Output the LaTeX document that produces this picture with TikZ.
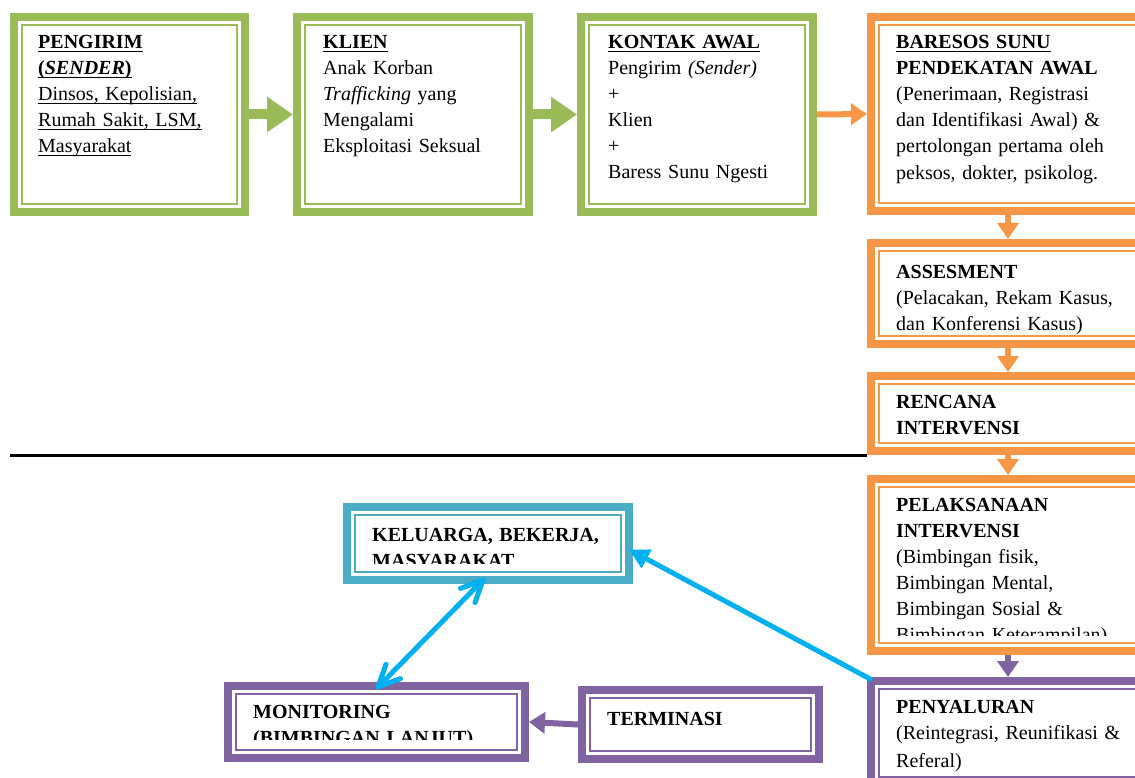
\documentclass[tikz,border=0pt]{standalone}
\usepackage{fontspec}
\setmainfont{Liberation Serif}
\usetikzlibrary{arrows.meta,calc}

\newsavebox{\garisbox}
\newcommand{\garis}[1]{\leavevmode\sbox{\garisbox}{#1}\rlap{\rule[-3.5pt]{\wd\garisbox}{1.2pt}}\usebox{\garisbox}}

\definecolor{hijau}{HTML}{9BBB59}
\definecolor{oranye}{HTML}{F79646}
\definecolor{ungu}{HTML}{8064A2}
\definecolor{tosca}{HTML}{4BACC6}
\definecolor{biru}{HTML}{00B0F0}

\tikzset{
	kotak/.style={draw=#1, line width=8pt, rectangle, inner sep=0pt,
		path picture={\draw[#1, line width=1.5pt] ([shift={(8pt,-8pt)}]path picture bounding box.north west) rectangle ([shift={(-8pt,8pt)}]path picture bounding box.south east);}},
	isi/.style={anchor=base west, inner sep=0pt, align=left, text width=#1},
	panahhijau/.style={draw=hijau, line width=10pt, -{Triangle[length=26pt,width=34pt]}},
	panah/.style={draw=#1, line width=6pt, -{Triangle[length=16pt,width=21pt]}},
	panahbiru/.style={draw=biru, line width=5pt, line cap=round, line join=round}
}

\begin{document}
\begin{tikzpicture}[x=1pt, y=-1pt, font=\fontsize{20}{26}\selectfont]
		\useasboundingbox (0,0) rectangle (1135,778);
		% kotak-kotak
		\node[kotak=hijau, minimum width=231pt, minimum height=195pt] (sender) at (129.5,114.5) {};
		\node[kotak=hijau, minimum width=232pt, minimum height=195pt] (klien) at (413,114.5) {};
		\node[kotak=hijau, minimum width=232pt, minimum height=195pt] (kontak) at (697,114.5) {};
		\node[kotak=oranye, minimum width=274pt, minimum height=194pt] (baresos) at (1008,114) {};
		\node[kotak=oranye, minimum width=274pt, minimum height=101pt] (assesment) at (1008,293.5) {};
		\node[kotak=oranye, minimum width=274pt, minimum height=75pt] (rencana) at (1008,413.5) {};
		\node[kotak=oranye, minimum width=274pt, minimum height=172pt] (pelaksanaan) at (1008,565) {};
		\node[kotak=ungu, minimum width=274pt, minimum height=104pt] (penyaluran) at (1008,733) {};
		\node[kotak=tosca, minimum width=282pt, minimum height=73pt] (keluarga) at (488,543.5) {};
		\node[kotak=ungu, minimum width=297pt, minimum height=72pt] (monitoring) at (376.5,722) {};
		\node[kotak=ungu, minimum width=237pt, minimum height=69pt] (terminasi) at (700.5,724.5) {};

		% teks
		\node[isi=205pt] (sender-t) at (38,49) {\garis{\textbf{PENGIRIM}}\\\garis{\textbf{(\textit{SENDER})}}\\\garis{Dinsos, Kepolisian,}\\\garis{Rumah Sakit, LSM,}\\\garis{Masyarakat}};
		\node[isi=205pt] (klien-t) at (323,49) {\garis{\textbf{KLIEN}}\\Anak Korban\\\textit{Trafficking} yang\\Mengalami\\Eksploitasi Seksual};
		\node[isi=205pt] (kontak-t) at (608,49) {\garis{\textbf{KONTAK AWAL}}\\Pengirim \textit{(Sender)}\\+\\Klien\\+\\Baress Sunu Ngesti};
		\node[isi=226pt] (baresos-t) at (896,49) {\garis{\textbf{BARESOS SUNU}}\\\textbf{PENDEKATAN AWAL}\\\makebox[226pt][s]{(Penerimaan, Registrasi}\\\makebox[226pt][s]{dan Identifikasi Awal) \&}\\\makebox[226pt][s]{pertolongan pertama oleh}\\[1pt]peksos, dokter, psikolog.};
		\node[isi=226pt] (assesment-t) at (896,278) {\textbf{ASSESMENT}\\(Pelacakan, Rekam Kasus,\\dan Konferensi Kasus)};
		\node[isi=226pt] (rencana-t) at (896,408) {\textbf{RENCANA}\\\textbf{INTERVENSI}};
		\begin{scope}
			\clip (pelaksanaan.north west) rectangle (pelaksanaan.east |- 0,635);
			\node[isi=226pt] (pelaksanaan-t) at (896,511) {\textbf{PELAKSANAAN}\\\textbf{INTERVENSI}\\(Bimbingan fisik,\\Bimbingan Mental,\\Bimbingan Sosial \&\\Bimbingan Keterampilan)};
		\end{scope}
		\node[isi=226pt] (penyaluran-t) at (896,713) {\textbf{PENYALURAN}\\(Reintegrasi, Reunifikasi \&\\[2pt]Referal)};
		\begin{scope}
			\clip (keluarga.north west) rectangle (keluarga.east |- 0,563);
			\node[isi=245pt] (keluarga-t) at (372,541) {\textbf{KELUARGA, BEKERJA,}\\\textbf{MASYARAKAT}};
		\end{scope}
		\begin{scope}
			\clip (monitoring.north west) rectangle (monitoring.east |- 0,739);
			\node[isi=260pt] (monitoring-t) at (253,718) {\textbf{MONITORING}\\\textbf{(BIMBINGAN LANJUT)}};
		\end{scope}
		\node[isi=200pt] (terminasi-t) at (607,725) {\textbf{TERMINASI}};

		% garis pemisah
		\coordinate (pisah) at (10,455);
		\draw[line width=3pt] (pisah) -- (rencana.south west);

		% panah
		\draw[panahhijau] (sender.east) -- (klien.west);
		\draw[panahhijau] (klien.east) -- (kontak.west);
		\draw[panah=oranye] (kontak.east) -- (baresos.west);
		\foreach \a/\b in {baresos/assesment, assesment/rencana, rencana/pelaksanaan}{
			\draw[panah=oranye] (\a.south) -- (\b.north);
		}
		\draw[panah=ungu] (pelaksanaan.south) -- (penyaluran.north);
		\draw[panah=ungu] (terminasi.west) -- (monitoring.east);
		\draw[panahbiru, line cap=butt, -{Triangle[length=20pt,width=20pt]}] ([shift={(5pt,-3pt)}]penyaluran.north west) -- ([shift={(-4pt,-6pt)}]keluarga.east);
		% panah dua arah
		\coordinate (ka) at ([shift={(-5pt,4pt)}]keluarga.south);
		\coordinate (mo) at ([shift={(1.5pt,-5pt)}]monitoring.north);
		\draw[panahbiru] (ka) -- (mo);
		\draw[panahbiru] ($(ka)!24pt!25:(mo)$) -- (ka) -- ($(ka)!24pt!-25:(mo)$);
		\draw[panahbiru] ($(mo)!24pt!25:(ka)$) -- (mo) -- ($(mo)!24pt!-25:(ka)$);
	\end{tikzpicture}
\end{document}
